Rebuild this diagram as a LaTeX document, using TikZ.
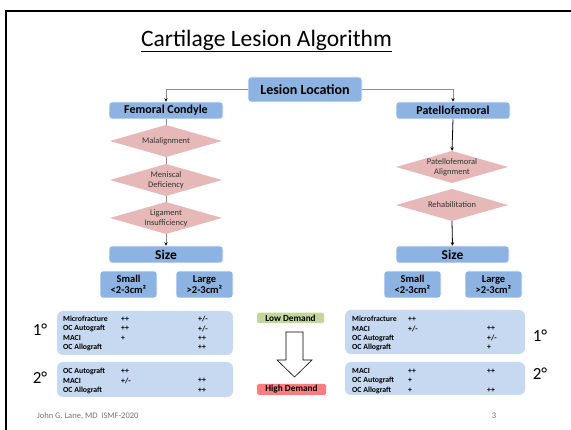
\documentclass[tikz,border=0pt]{standalone}
\usepackage{fontspec}
\setmainfont{Carlito}
\usetikzlibrary{arrows.meta}
\definecolor{boxblue}{HTML}{8DB3E2}
\definecolor{tabblue}{HTML}{C6D9F1}
\definecolor{diapink}{HTML}{E6B9B8}
\definecolor{lowgreen}{HTML}{C3D69B}
\definecolor{highred}{HTML}{FF7C80}
\definecolor{linegray}{HTML}{8C8C8C}
\tikzset{
  bluebox/.style={fill=boxblue, draw=white, line width=0.6pt, rounded corners=3pt, inner sep=0pt, font=\bfseries, text=black},
  diabox/.style={rectangle, draw=none, inner sep=0pt, minimum width=112pt, minimum height=32pt,
    font=\fontsize{8.5}{10}\selectfont, text=black!80, align=center,
    path picture={\fill[diapink] (path picture bounding box.west) -- (path picture bounding box.north) -- (path picture bounding box.east) -- (path picture bounding box.south) -- cycle;}},
  tabbox/.style={fill=tabblue, draw=none, rounded corners=6pt},
  tabtxt/.style={anchor=west, inner sep=0pt, font=\bfseries\fontsize{7.8}{8}\selectfont},
  deg/.style={inner sep=0pt, font=\fontsize{17}{19}\selectfont},
  conn/.style={draw=linegray, line width=0.8pt},
  tip/.style={-{Stealth[black,length=3.5pt,width=3.5pt]}},
  smallbox/.style={bluebox, minimum width=57pt, minimum height=27pt, align=center, font=\bfseries\fontsize{10.5}{11.5}\selectfont},
}
\begin{document}
\begin{tikzpicture}[x=1pt,y=-1pt]
\useasboundingbox (0,0) rectangle (571,430);
\fill[white] (0,0) rectangle (571,430);
% slide frame
\draw[line width=1.6pt] (6,11) rectangle (580,440);
% title
\node[inner sep=0pt, font=\fontsize{23.5}{25}\selectfont] (title) at (266.5,41) {\underline{Cartilage Lesion Algorithm}};
% top boxes
\node[bluebox, minimum width=114pt, minimum height=25pt, font=\bfseries\fontsize{14}{15}\selectfont] (LL) at (305,89.5) {Lesion Location};
\node[bluebox, minimum width=114pt, minimum height=17pt, font=\bfseries\fontsize{12}{13}\selectfont] (FC) at (166,110.5) {Femoral Condyle};
\node[bluebox, minimum width=114pt, minimum height=17pt, font=\bfseries\fontsize{12}{13}\selectfont] (PF) at (453,110.5) {Patellofemoral};
% diamonds left
\node[diabox] (D1) at (166,141) {Malalignment};
\node[diabox] (D2) at (166,180) {Meniscal\\Deficiency};
\node[diabox] (D3) at (166,218) {Ligament\\Insufficiency};
% diamonds right
\node[diabox] (R1) at (452,167) {Patellofemoral\\Alignment};
\node[diabox] (R2) at (452,205) {Rehabilitation};
% size boxes
\node[bluebox, minimum width=114pt, minimum height=17pt, font=\bfseries\fontsize{13.5}{14}\selectfont] (SL) at (166,254.5) {Size};
\node[bluebox, minimum width=113pt, minimum height=17pt, font=\bfseries\fontsize{13.5}{14}\selectfont] (SR) at (452.5,254.5) {Size};
% small / large
\node[smallbox] (SmL) at (128.5,284.5) {Small\\<2-3cm²};
\node[smallbox] (LgL) at (204.5,284.5) {Large\\>2-3cm²};
\node[smallbox] (SmR) at (412.5,284.5) {Small\\<2-3cm²};
\node[smallbox] (LgR) at (493.5,284.5) {Large\\>2-3cm²};
% connectors
\draw[conn,tip] (LL.west) -| (FC.north);
\draw[conn,tip] (LL.east) -| (PF.north);
\draw[conn] (FC.south) -- (D1.north);
\draw[conn] (D1.south) -- (D2.north);
\draw[conn] (D2.south) -- (D3.north);
\draw[conn,tip] (D3.south) -- (SL.north);
\draw[line width=0.8pt,black,tip] (PF.south) -- (R1.north);
\draw[line width=0.8pt,black,tip] (R2.south) -- (SR.north);
% left tables
\node[tabbox, minimum width=176pt, minimum height=44pt] (TL1) at (145,333) {};
\node[tabbox, minimum width=176pt, minimum height=35pt] (TL2) at (145,379.5) {};
\node[deg] (dL1) at (40,330) {1°};
\node[deg] (dL2) at (40,378) {2°};
\foreach \y/\a/\b/\c [count=\i] in {319/Microfracture/++/+\slash-, 328.5/OC Autograft/++/+\slash-, 338/MACI/+/++, 347.5/OC Allograft//++}{
  \node[tabtxt] (la\i) at (63,\y) {\a};
  \node[tabtxt] (lb\i) at (121,\y) {\b};
  \node[tabtxt] (lc\i) at (198,\y) {\c};
}
\foreach \y/\a/\b/\c [count=\i] in {371/OC Autograft/++/, 380.5/MACI/+\slash-/++, 390/OC Allograft//++}{
  \node[tabtxt] (ma\i) at (63,\y) {\a};
  \node[tabtxt] (mb\i) at (121,\y) {\b};
  \node[tabtxt] (mc\i) at (198,\y) {\c};
}
% right tables
\node[tabbox, minimum width=180pt, minimum height=44pt] (TR1) at (435,332) {};
\node[tabbox, minimum width=180pt, minimum height=33pt] (TR2) at (435,378.5) {};
\node[deg] (dR1) at (540,336) {1°};
\node[deg] (dR2) at (540,374) {2°};
\foreach \y/\a/\b/\c [count=\i] in {319/Microfracture/++/, 328.5/MACI/+\slash-/++, 338/OC Autograft//+\slash-, 347.5/OC Allograft//+}{
  \node[tabtxt] (ra\i) at (352,\y) {\a};
  \node[tabtxt] (rb\i) at (408,\y) {\b};
  \node[tabtxt] (rc\i) at (487,\y) {\c};
}
\foreach \y/\a/\b/\c [count=\i] in {371/MACI/++/++, 380.5/OC Autograft/+/, 390/OC Allograft/+/++}{
  \node[tabtxt] (sa\i) at (352,\y) {\a};
  \node[tabtxt] (sb\i) at (408,\y) {\b};
  \node[tabtxt] (sc\i) at (487,\y) {\c};
}
% demand
\node[fill=lowgreen, rounded corners=1.5pt, minimum width=67pt, minimum height=10.5pt, inner sep=0pt, font=\bfseries\fontsize{9.3}{10}\selectfont] (low) at (290.5,318) {Low Demand};
\node[fill=highred, rounded corners=1.5pt, minimum width=69pt, minimum height=11pt, inner sep=0pt, font=\bfseries\fontsize{9.3}{10}\selectfont] (high) at (291.5,389.5) {High Demand};
\draw[line width=0.6pt, fill=white] (286,332) -- (303,332) -- (303,360) -- (312,360) -- (294.5,377) -- (277,360) -- (286,360) -- cycle;
% footer
\node[anchor=west, inner sep=0pt, text=black!55, font=\fontsize{8.5}{9}\selectfont] (foot) at (37,416) {John G. Lane, MD\ \ ISMF-2020};
\node[inner sep=0pt, text=black!55, font=\fontsize{8.5}{9}\selectfont] (pg) at (494,416) {3};
\end{tikzpicture}
\end{document}
